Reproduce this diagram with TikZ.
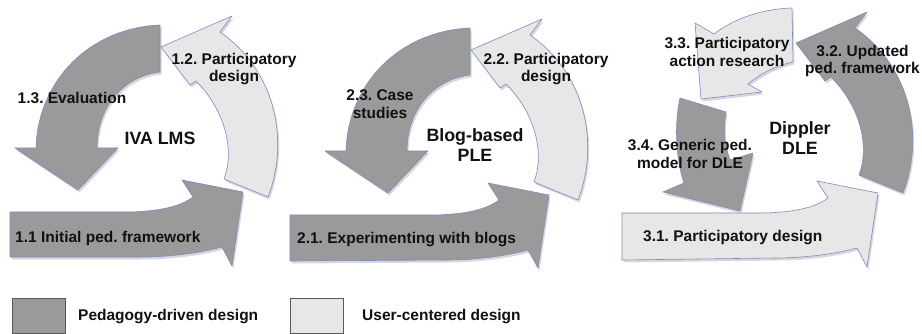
\documentclass[tikz,border=0pt]{standalone}
\usepackage{fontspec}
\setmainfont{Liberation Sans}
\usetikzlibrary{shadows}
\definecolor{dk}{HTML}{9A9A9A}
\definecolor{lt}{HTML}{E7E7E7}
\definecolor{edgec}{HTML}{7C8CC0}
\definecolor{txt}{HTML}{111111}
\frenchspacing
\begin{document}
\begin{tikzpicture}[x=1pt,y=-1pt,
  pd/.style={fill=dk,draw=edgec,line width=0.6pt,line join=round,
    drop shadow={opacity=0.3,shadow xshift=1.5pt,shadow yshift=-2.5pt}},
  uc/.style={pd,fill=lt},
  legbox/.style={draw=black!65,line width=0.5pt,
    drop shadow={opacity=0.35,shadow xshift=1.2pt,shadow yshift=-1.5pt}},
  lbl/.style={font=\bfseries\fontsize{15.5}{17.5}\selectfont,text=txt,align=center,inner sep=0pt},
  big/.style={font=\bfseries\fontsize{17.8}{20}\selectfont,text=txt,align=center,inner sep=0pt}]
\useasboundingbox (0,0) rectangle (922,334);
\fill[white] (0,0) rectangle (922,334);

% ---------- Panel 1 ----------
% 1.3 Evaluation (dark)
\path[pd] (160,25) -- (160,72) .. controls (125,76) and (97,105) .. (97,148)
  -- (118,148) -- (78,190) -- (15,148) -- (36,148)
  .. controls (38,80) and (90,28) .. (160,25) -- cycle;
% 1.2 Participatory design (light)
\path[uc] (224,179) -- (268,197) .. controls (290,140) and (275,70) .. (220,32)
  -- (232,16) -- (161,47) -- (190,85) -- (196,81)
  .. controls (225,110) and (235,150) .. (224,179) -- cycle;
% 1.1 Initial ped. framework (dark)
\path[pd] (10,212) -- (130,212) .. controls (162,211) and (181,206) .. (193,197)
  -- (182,180) -- (243,192) -- (232,266) -- (222,247)
  .. controls (200,253) and (170,257) .. (140,257) -- (10,257) -- cycle;

% ---------- Panel 2 ----------
\begin{scope}[shift={(310,3)}]
\path[pd] (160,25) -- (160,72) .. controls (125,76) and (97,105) .. (97,148)
  -- (118,148) -- (78,190) -- (15,148) -- (36,148)
  .. controls (38,80) and (90,28) .. (160,25) -- cycle;
\path[uc] (224,179) -- (268,197) .. controls (290,140) and (275,70) .. (220,32)
  -- (232,16) -- (161,47) -- (190,85) -- (196,81)
  .. controls (225,110) and (235,150) .. (224,179) -- cycle;
\end{scope}
\path[pd] (290,215) -- (436,215) .. controls (468,214) and (487,209) .. (499,200)
  -- (488,183) -- (549,195) -- (538,268) -- (528,250)
  .. controls (506,256) and (476,260) .. (446,260) -- (290,261) -- cycle;

% ---------- Panel 3 ----------
% 3.2 Updated ped. framework (dark)
\begin{scope}[shift={(635,-4)}]
\path[pd] (224,179) -- (268,197) .. controls (290,140) and (275,70) .. (220,32)
  -- (232,16) -- (161,47) -- (190,85) -- (196,81)
  .. controls (225,110) and (235,150) .. (224,179) -- cycle;
\end{scope}
% 3.4 Generic ped. model (dark)
\path[pd] (680,98) -- (726,112) .. controls (723,130) and (724,145) .. (730,160)
  -- (753,153) -- (740,211) -- (663,192) -- (684,183)
  .. controls (676,160) and (674,125) .. (680,98) -- cycle;
% 3.3 Participatory action research (light)
\path[uc] (792,8) -- (793,62) .. controls (775,66) and (760,74) .. (748,84)
  -- (762,92) -- (701,99) -- (695,23) -- (714,34)
  .. controls (735,18) and (762,9) .. (792,8) -- cycle;
% 3.1 Participatory design (light)
\path[uc] (622,213) -- (765,213) .. controls (797,212) and (816,207) .. (828,198)
  -- (817,181) -- (878,193) -- (867,267) -- (857,248)
  .. controls (835,254) and (805,258) .. (775,258) -- (622,260) -- cycle;

% ---------- Labels ----------
\node[lbl,anchor=west] (t11) at (15,238) {1.1 Initial ped. framework};
\node[lbl] (t12) at (234,69) {1.2. Participatory\\design};
\node[lbl] (t13) at (72,98) {1.3. Evaluation};
\node[big] (c1) at (160,138) {IVA LMS};

\node[lbl,anchor=west] (t21) at (297,240) {2.1. Experimenting with blogs};
\node[lbl] (t22) at (546,69) {2.2. Participatory\\design};
\node[lbl] (t23) at (380,104) {2.3. Case\\studies};
\node[big] (c2) at (475,145) {Blog-based\\PLE};

\node[lbl,anchor=west] (t31) at (643,238) {3.1. Participatory design};
\node[lbl,anchor=east] (t32) at (920,61) {3.2. Updated\\ped. framework};
\node[lbl] (t33) at (727,52) {3.3. Participatory\\action research};
\node[lbl] (t34) at (690,154) {3.4. Generic ped.\\model for DLE};
\node[big] (c3) at (800,138) {Dippler\\DLE};

% ---------- Legend ----------
\path[legbox,fill=dk] (12,298) rectangle (65,333);
\path[legbox,fill=lt] (290,298) rectangle (343,333);
\node[lbl,anchor=west] (lg1) at (78,317) {Pedagogy-driven design};
\node[lbl,anchor=west] (lg2) at (362,317) {User-centered design};
\end{tikzpicture}
\end{document}
